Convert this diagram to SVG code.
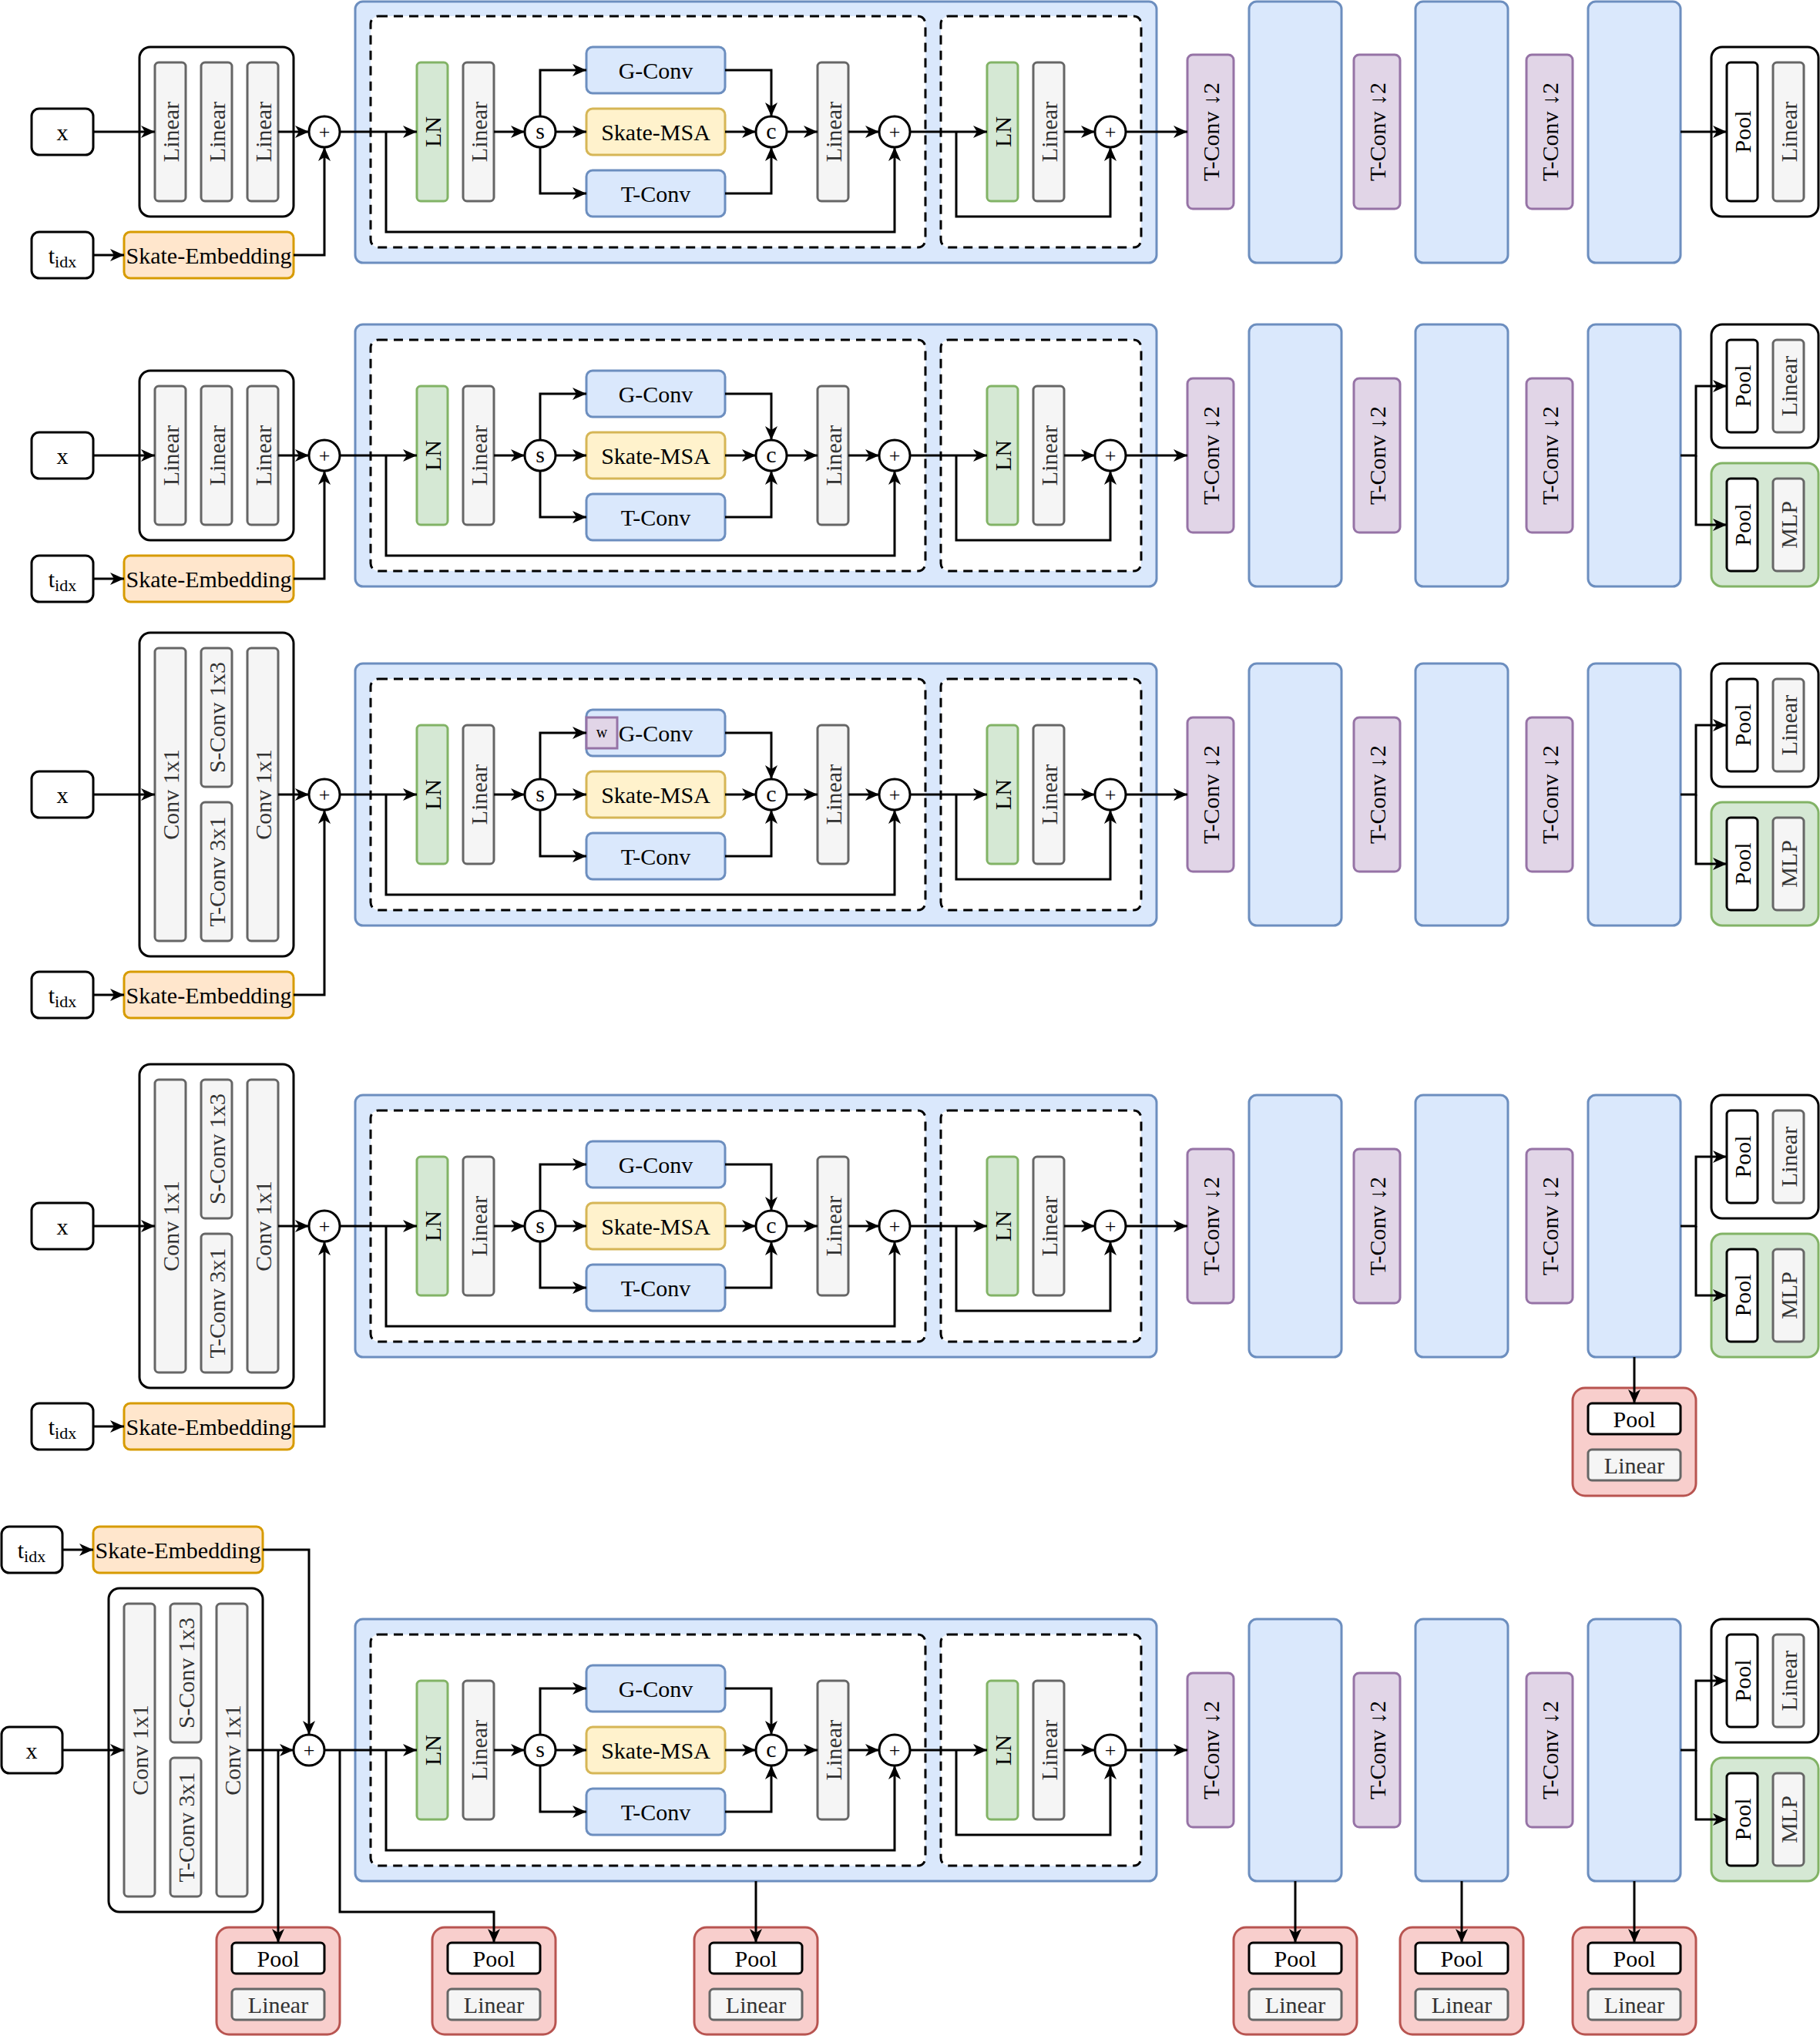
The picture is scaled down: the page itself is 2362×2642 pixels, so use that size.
<svg xmlns="http://www.w3.org/2000/svg" width="2362" height="2642" viewBox="0 0 2362 2642">
<style>
.blk{fill:#fff;stroke:#000;stroke-width:3}
.blue{fill:#dae8fc;stroke:#6c8ebf;stroke-width:3}
.yel{fill:#fff2cc;stroke:#d6b656;stroke-width:3}
.org{fill:#ffe6cc;stroke:#d79b00;stroke-width:3}
.grn{fill:#d5e8d4;stroke:#82b366;stroke-width:3}
.gry{fill:#f5f5f5;stroke:#666;stroke-width:3}
.pur{fill:#e1d5e7;stroke:#9673a6;stroke-width:3}
.red{fill:#f8cecc;stroke:#b85450;stroke-width:3}
.dsh{fill:#fff;stroke:#000;stroke-width:3;stroke-dasharray:12 8}
.c path{fill:none;stroke:#000;stroke-width:3;marker-end:url(#a)}
text{font-family:"Liberation Serif","Times New Roman",serif;font-size:30px;text-anchor:middle;dominant-baseline:central;fill:#000}
text.tg{fill:#333}
text.op{font-size:26px}
text.sm{font-size:20px}
</style>
<defs>
<marker id="a" viewBox="0 0 20 20" refX="19" refY="10" markerWidth="20" markerHeight="20" markerUnits="userSpaceOnUse" orient="auto"><path d="M1,2 L19,10 L1,18 L6,10 Z" fill="#000"/></marker>
</defs>
<rect width="2362" height="2642" fill="#fff"/>

<!-- ================= ROW 1 (c=171) ================= -->
<g id="r1-x"><rect class="blk" x="41" y="141" width="80" height="60" rx="10"/><text x="81" y="171">x</text></g>
<g id="r1-linear-stack"><rect class="blk" x="181" y="61" width="200" height="220" rx="14"/>
<rect class="gry" x="201" y="81" width="40" height="180" rx="5"/><text class="tg" x="221" y="171" transform="rotate(-90 221 171)">Linear</text>
<rect class="gry" x="261" y="81" width="40" height="180" rx="5"/><text class="tg" x="281" y="171" transform="rotate(-90 281 171)">Linear</text>
<rect class="gry" x="321" y="81" width="40" height="180" rx="5"/><text class="tg" x="341" y="171" transform="rotate(-90 341 171)">Linear</text></g>
<g id="r1-add0"><circle class="blk" cx="421" cy="171" r="20"/><text class="op" x="421" y="171">+</text></g>
<g id="r1-tidx"><rect class="blk" x="41" y="301" width="80" height="60" rx="10"/><text x="81" y="331">t<tspan font-size="22" dy="8">idx</tspan></text></g>
<g id="r1-skate-emb"><rect class="org" x="161" y="301" width="220" height="60" rx="8"/><text x="271" y="331">Skate-Embedding</text></g>
<g id="r1-stage1"><rect class="blue" x="461" y="2" width="1040" height="339" rx="10"/></g>
<g id="r1-attn-block"><rect class="dsh" x="481" y="21" width="720" height="300" rx="10"/></g>
<g id="r1-mlp-block"><rect class="dsh" x="1221" y="21" width="260" height="300" rx="10"/></g>
<g id="r1-ln1"><rect class="grn" x="541" y="81" width="40" height="180" rx="5"/><text x="561" y="171" transform="rotate(-90 561 171)">LN</text></g>
<g id="r1-lin1"><rect class="gry" x="601" y="81" width="40" height="180" rx="5"/><text class="tg" x="621" y="171" transform="rotate(-90 621 171)">Linear</text></g>
<g id="r1-split"><circle class="blk" cx="701" cy="171" r="20"/><text x="701" y="169">s</text></g>
<g id="r1-gconv"><rect class="blue" x="761" y="61" width="180" height="60" rx="8"/><text x="851" y="91">G-Conv</text></g>
<g id="r1-msa"><rect class="yel" x="761" y="141" width="180" height="60" rx="8"/><text x="851" y="171">Skate-MSA</text></g>
<g id="r1-tconv"><rect class="blue" x="761" y="221" width="180" height="60" rx="8"/><text x="851" y="251">T-Conv</text></g>
<g id="r1-concat"><circle class="blk" cx="1001" cy="171" r="20"/><text x="1001" y="169">c</text></g>
<g id="r1-lin2"><rect class="gry" x="1061" y="81" width="40" height="180" rx="5"/><text class="tg" x="1081" y="171" transform="rotate(-90 1081 171)">Linear</text></g>
<g id="r1-add1"><circle class="blk" cx="1161" cy="171" r="20"/><text class="op" x="1161" y="171">+</text></g>
<g id="r1-ln2"><rect class="grn" x="1281" y="81" width="40" height="180" rx="5"/><text x="1301" y="171" transform="rotate(-90 1301 171)">LN</text></g>
<g id="r1-lin3"><rect class="gry" x="1341" y="81" width="40" height="180" rx="5"/><text class="tg" x="1361" y="171" transform="rotate(-90 1361 171)">Linear</text></g>
<g id="r1-add2"><circle class="blk" cx="1441" cy="171" r="20"/><text class="op" x="1441" y="171">+</text></g>
<g id="r1-down1"><rect class="pur" x="1541" y="71" width="60" height="200" rx="7"/><text x="1571" y="171" transform="rotate(-90 1571 171)">T-Conv ↓2</text></g>
<g id="r1-stage2"><rect class="blue" x="1621" y="2" width="120" height="339" rx="10"/></g>
<g id="r1-down2"><rect class="pur" x="1757" y="71" width="60" height="200" rx="7"/><text x="1787" y="171" transform="rotate(-90 1787 171)">T-Conv ↓2</text></g>
<g id="r1-stage3"><rect class="blue" x="1837" y="2" width="120" height="339" rx="10"/></g>
<g id="r1-down3"><rect class="pur" x="1981" y="71" width="60" height="200" rx="7"/><text x="2011" y="171" transform="rotate(-90 2011 171)">T-Conv ↓2</text></g>
<g id="r1-stage4"><rect class="blue" x="2061" y="2" width="120" height="339" rx="10"/></g>
<g id="r1-head"><rect class="blk" x="2221" y="61" width="139" height="220" rx="14"/>
<rect class="blk" x="2241" y="81" width="40" height="180" rx="5"/><text x="2261" y="171" transform="rotate(-90 2261 171)">Pool</text>
<rect class="gry" x="2301" y="81" width="40" height="180" rx="5"/><text class="tg" x="2321" y="171" transform="rotate(-90 2321 171)">Linear</text></g>

<!-- ================= ROW 2 (c=591) ================= -->
<g id="r2-x"><rect class="blk" x="41" y="561" width="80" height="60" rx="10"/><text x="81" y="591">x</text></g>
<g id="r2-linear-stack"><rect class="blk" x="181" y="481" width="200" height="220" rx="14"/>
<rect class="gry" x="201" y="501" width="40" height="180" rx="5"/><text class="tg" x="221" y="591" transform="rotate(-90 221 591)">Linear</text>
<rect class="gry" x="261" y="501" width="40" height="180" rx="5"/><text class="tg" x="281" y="591" transform="rotate(-90 281 591)">Linear</text>
<rect class="gry" x="321" y="501" width="40" height="180" rx="5"/><text class="tg" x="341" y="591" transform="rotate(-90 341 591)">Linear</text></g>
<g id="r2-add0"><circle class="blk" cx="421" cy="591" r="20"/><text class="op" x="421" y="591">+</text></g>
<g id="r2-tidx"><rect class="blk" x="41" y="721" width="80" height="60" rx="10"/><text x="81" y="751">t<tspan font-size="22" dy="8">idx</tspan></text></g>
<g id="r2-skate-emb"><rect class="org" x="161" y="721" width="220" height="60" rx="8"/><text x="271" y="751">Skate-Embedding</text></g>
<g id="r2-stage1"><rect class="blue" x="461" y="421" width="1040" height="340" rx="10"/></g>
<g id="r2-attn-block"><rect class="dsh" x="481" y="441" width="720" height="300" rx="10"/></g>
<g id="r2-mlp-block"><rect class="dsh" x="1221" y="441" width="260" height="300" rx="10"/></g>
<g id="r2-ln1"><rect class="grn" x="541" y="501" width="40" height="180" rx="5"/><text x="561" y="591" transform="rotate(-90 561 591)">LN</text></g>
<g id="r2-lin1"><rect class="gry" x="601" y="501" width="40" height="180" rx="5"/><text class="tg" x="621" y="591" transform="rotate(-90 621 591)">Linear</text></g>
<g id="r2-split"><circle class="blk" cx="701" cy="591" r="20"/><text x="701" y="589">s</text></g>
<g id="r2-gconv"><rect class="blue" x="761" y="481" width="180" height="60" rx="8"/><text x="851" y="511">G-Conv</text></g>
<g id="r2-msa"><rect class="yel" x="761" y="561" width="180" height="60" rx="8"/><text x="851" y="591">Skate-MSA</text></g>
<g id="r2-tconv"><rect class="blue" x="761" y="641" width="180" height="60" rx="8"/><text x="851" y="671">T-Conv</text></g>
<g id="r2-concat"><circle class="blk" cx="1001" cy="591" r="20"/><text x="1001" y="589">c</text></g>
<g id="r2-lin2"><rect class="gry" x="1061" y="501" width="40" height="180" rx="5"/><text class="tg" x="1081" y="591" transform="rotate(-90 1081 591)">Linear</text></g>
<g id="r2-add1"><circle class="blk" cx="1161" cy="591" r="20"/><text class="op" x="1161" y="591">+</text></g>
<g id="r2-ln2"><rect class="grn" x="1281" y="501" width="40" height="180" rx="5"/><text x="1301" y="591" transform="rotate(-90 1301 591)">LN</text></g>
<g id="r2-lin3"><rect class="gry" x="1341" y="501" width="40" height="180" rx="5"/><text class="tg" x="1361" y="591" transform="rotate(-90 1361 591)">Linear</text></g>
<g id="r2-add2"><circle class="blk" cx="1441" cy="591" r="20"/><text class="op" x="1441" y="591">+</text></g>
<g id="r2-down1"><rect class="pur" x="1541" y="491" width="60" height="200" rx="7"/><text x="1571" y="591" transform="rotate(-90 1571 591)">T-Conv ↓2</text></g>
<g id="r2-stage2"><rect class="blue" x="1621" y="421" width="120" height="340" rx="10"/></g>
<g id="r2-down2"><rect class="pur" x="1757" y="491" width="60" height="200" rx="7"/><text x="1787" y="591" transform="rotate(-90 1787 591)">T-Conv ↓2</text></g>
<g id="r2-stage3"><rect class="blue" x="1837" y="421" width="120" height="340" rx="10"/></g>
<g id="r2-down3"><rect class="pur" x="1981" y="491" width="60" height="200" rx="7"/><text x="2011" y="591" transform="rotate(-90 2011 591)">T-Conv ↓2</text></g>
<g id="r2-stage4"><rect class="blue" x="2061" y="421" width="120" height="340" rx="10"/></g>
<g id="r2-head-a"><rect class="blk" x="2221" y="421" width="139" height="160" rx="14"/>
<rect class="blk" x="2241" y="441" width="40" height="120" rx="5"/><text x="2261" y="501" transform="rotate(-90 2261 501)">Pool</text>
<rect class="gry" x="2301" y="441" width="40" height="120" rx="5"/><text class="tg" x="2321" y="501" transform="rotate(-90 2321 501)">Linear</text></g>
<g id="r2-head-b"><rect class="grn" x="2221" y="601" width="139" height="160" rx="14"/>
<rect class="blk" x="2241" y="621" width="40" height="120" rx="5"/><text x="2261" y="681" transform="rotate(-90 2261 681)">Pool</text>
<rect class="gry" x="2301" y="621" width="40" height="120" rx="5"/><text class="tg" x="2321" y="681" transform="rotate(-90 2321 681)">MLP</text></g>

<!-- ================= ROW 3 (c=1031) ================= -->
<g id="r3-x"><rect class="blk" x="41" y="1001" width="80" height="60" rx="10"/><text x="81" y="1031">x</text></g>
<g id="r3-conv-stack"><rect class="blk" x="181" y="821" width="200" height="420" rx="14"/>
<rect class="gry" x="201" y="841" width="40" height="380" rx="5"/><text class="tg" x="221" y="1031" transform="rotate(-90 221 1031)">Conv 1x1</text>
<rect class="gry" x="261" y="841" width="40" height="180" rx="5"/><text class="tg" x="281" y="931" transform="rotate(-90 281 931)">S-Conv 1x3</text>
<rect class="gry" x="261" y="1041" width="40" height="180" rx="5"/><text class="tg" x="281" y="1131" transform="rotate(-90 281 1131)">T-Conv 3x1</text>
<rect class="gry" x="321" y="841" width="40" height="380" rx="5"/><text class="tg" x="341" y="1031" transform="rotate(-90 341 1031)">Conv 1x1</text></g>
<g id="r3-add0"><circle class="blk" cx="421" cy="1031" r="20"/><text class="op" x="421" y="1031">+</text></g>
<g id="r3-tidx"><rect class="blk" x="41" y="1261" width="80" height="60" rx="10"/><text x="81" y="1291">t<tspan font-size="22" dy="8">idx</tspan></text></g>
<g id="r3-skate-emb"><rect class="org" x="161" y="1261" width="220" height="60" rx="8"/><text x="271" y="1291">Skate-Embedding</text></g>
<g id="r3-stage1"><rect class="blue" x="461" y="861" width="1040" height="340" rx="10"/></g>
<g id="r3-attn-block"><rect class="dsh" x="481" y="881" width="720" height="300" rx="10"/></g>
<g id="r3-mlp-block"><rect class="dsh" x="1221" y="881" width="260" height="300" rx="10"/></g>
<g id="r3-ln1"><rect class="grn" x="541" y="941" width="40" height="180" rx="5"/><text x="561" y="1031" transform="rotate(-90 561 1031)">LN</text></g>
<g id="r3-lin1"><rect class="gry" x="601" y="941" width="40" height="180" rx="5"/><text class="tg" x="621" y="1031" transform="rotate(-90 621 1031)">Linear</text></g>
<g id="r3-split"><circle class="blk" cx="701" cy="1031" r="20"/><text x="701" y="1029">s</text></g>
<g id="r3-gconv"><rect class="blue" x="761" y="921" width="180" height="60" rx="8"/><text x="851" y="951">G-Conv</text></g>
<g id="r3-w"><rect class="pur" x="761" y="931" width="40" height="40"/><text class="sm" x="781" y="950">w</text></g>
<g id="r3-msa"><rect class="yel" x="761" y="1001" width="180" height="60" rx="8"/><text x="851" y="1031">Skate-MSA</text></g>
<g id="r3-tconv"><rect class="blue" x="761" y="1081" width="180" height="60" rx="8"/><text x="851" y="1111">T-Conv</text></g>
<g id="r3-concat"><circle class="blk" cx="1001" cy="1031" r="20"/><text x="1001" y="1029">c</text></g>
<g id="r3-lin2"><rect class="gry" x="1061" y="941" width="40" height="180" rx="5"/><text class="tg" x="1081" y="1031" transform="rotate(-90 1081 1031)">Linear</text></g>
<g id="r3-add1"><circle class="blk" cx="1161" cy="1031" r="20"/><text class="op" x="1161" y="1031">+</text></g>
<g id="r3-ln2"><rect class="grn" x="1281" y="941" width="40" height="180" rx="5"/><text x="1301" y="1031" transform="rotate(-90 1301 1031)">LN</text></g>
<g id="r3-lin3"><rect class="gry" x="1341" y="941" width="40" height="180" rx="5"/><text class="tg" x="1361" y="1031" transform="rotate(-90 1361 1031)">Linear</text></g>
<g id="r3-add2"><circle class="blk" cx="1441" cy="1031" r="20"/><text class="op" x="1441" y="1031">+</text></g>
<g id="r3-down1"><rect class="pur" x="1541" y="931" width="60" height="200" rx="7"/><text x="1571" y="1031" transform="rotate(-90 1571 1031)">T-Conv ↓2</text></g>
<g id="r3-stage2"><rect class="blue" x="1621" y="861" width="120" height="340" rx="10"/></g>
<g id="r3-down2"><rect class="pur" x="1757" y="931" width="60" height="200" rx="7"/><text x="1787" y="1031" transform="rotate(-90 1787 1031)">T-Conv ↓2</text></g>
<g id="r3-stage3"><rect class="blue" x="1837" y="861" width="120" height="340" rx="10"/></g>
<g id="r3-down3"><rect class="pur" x="1981" y="931" width="60" height="200" rx="7"/><text x="2011" y="1031" transform="rotate(-90 2011 1031)">T-Conv ↓2</text></g>
<g id="r3-stage4"><rect class="blue" x="2061" y="861" width="120" height="340" rx="10"/></g>
<g id="r3-head-a"><rect class="blk" x="2221" y="861" width="139" height="160" rx="14"/>
<rect class="blk" x="2241" y="881" width="40" height="120" rx="5"/><text x="2261" y="941" transform="rotate(-90 2261 941)">Pool</text>
<rect class="gry" x="2301" y="881" width="40" height="120" rx="5"/><text class="tg" x="2321" y="941" transform="rotate(-90 2321 941)">Linear</text></g>
<g id="r3-head-b"><rect class="grn" x="2221" y="1041" width="139" height="160" rx="14"/>
<rect class="blk" x="2241" y="1061" width="40" height="120" rx="5"/><text x="2261" y="1121" transform="rotate(-90 2261 1121)">Pool</text>
<rect class="gry" x="2301" y="1061" width="40" height="120" rx="5"/><text class="tg" x="2321" y="1121" transform="rotate(-90 2321 1121)">MLP</text></g>

<!-- ================= ROW 4 (c=1591) ================= -->
<g id="r4-x"><rect class="blk" x="41" y="1561" width="80" height="60" rx="10"/><text x="81" y="1591">x</text></g>
<g id="r4-conv-stack"><rect class="blk" x="181" y="1381" width="200" height="420" rx="14"/>
<rect class="gry" x="201" y="1401" width="40" height="380" rx="5"/><text class="tg" x="221" y="1591" transform="rotate(-90 221 1591)">Conv 1x1</text>
<rect class="gry" x="261" y="1401" width="40" height="180" rx="5"/><text class="tg" x="281" y="1491" transform="rotate(-90 281 1491)">S-Conv 1x3</text>
<rect class="gry" x="261" y="1601" width="40" height="180" rx="5"/><text class="tg" x="281" y="1691" transform="rotate(-90 281 1691)">T-Conv 3x1</text>
<rect class="gry" x="321" y="1401" width="40" height="380" rx="5"/><text class="tg" x="341" y="1591" transform="rotate(-90 341 1591)">Conv 1x1</text></g>
<g id="r4-add0"><circle class="blk" cx="421" cy="1591" r="20"/><text class="op" x="421" y="1591">+</text></g>
<g id="r4-tidx"><rect class="blk" x="41" y="1821" width="80" height="60" rx="10"/><text x="81" y="1851">t<tspan font-size="22" dy="8">idx</tspan></text></g>
<g id="r4-skate-emb"><rect class="org" x="161" y="1821" width="220" height="60" rx="8"/><text x="271" y="1851">Skate-Embedding</text></g>
<g id="r4-stage1"><rect class="blue" x="461" y="1421" width="1040" height="340" rx="10"/></g>
<g id="r4-attn-block"><rect class="dsh" x="481" y="1441" width="720" height="300" rx="10"/></g>
<g id="r4-mlp-block"><rect class="dsh" x="1221" y="1441" width="260" height="300" rx="10"/></g>
<g id="r4-ln1"><rect class="grn" x="541" y="1501" width="40" height="180" rx="5"/><text x="561" y="1591" transform="rotate(-90 561 1591)">LN</text></g>
<g id="r4-lin1"><rect class="gry" x="601" y="1501" width="40" height="180" rx="5"/><text class="tg" x="621" y="1591" transform="rotate(-90 621 1591)">Linear</text></g>
<g id="r4-split"><circle class="blk" cx="701" cy="1591" r="20"/><text x="701" y="1589">s</text></g>
<g id="r4-gconv"><rect class="blue" x="761" y="1481" width="180" height="60" rx="8"/><text x="851" y="1511">G-Conv</text></g>
<g id="r4-msa"><rect class="yel" x="761" y="1561" width="180" height="60" rx="8"/><text x="851" y="1591">Skate-MSA</text></g>
<g id="r4-tconv"><rect class="blue" x="761" y="1641" width="180" height="60" rx="8"/><text x="851" y="1671">T-Conv</text></g>
<g id="r4-concat"><circle class="blk" cx="1001" cy="1591" r="20"/><text x="1001" y="1589">c</text></g>
<g id="r4-lin2"><rect class="gry" x="1061" y="1501" width="40" height="180" rx="5"/><text class="tg" x="1081" y="1591" transform="rotate(-90 1081 1591)">Linear</text></g>
<g id="r4-add1"><circle class="blk" cx="1161" cy="1591" r="20"/><text class="op" x="1161" y="1591">+</text></g>
<g id="r4-ln2"><rect class="grn" x="1281" y="1501" width="40" height="180" rx="5"/><text x="1301" y="1591" transform="rotate(-90 1301 1591)">LN</text></g>
<g id="r4-lin3"><rect class="gry" x="1341" y="1501" width="40" height="180" rx="5"/><text class="tg" x="1361" y="1591" transform="rotate(-90 1361 1591)">Linear</text></g>
<g id="r4-add2"><circle class="blk" cx="1441" cy="1591" r="20"/><text class="op" x="1441" y="1591">+</text></g>
<g id="r4-down1"><rect class="pur" x="1541" y="1491" width="60" height="200" rx="7"/><text x="1571" y="1591" transform="rotate(-90 1571 1591)">T-Conv ↓2</text></g>
<g id="r4-stage2"><rect class="blue" x="1621" y="1421" width="120" height="340" rx="10"/></g>
<g id="r4-down2"><rect class="pur" x="1757" y="1491" width="60" height="200" rx="7"/><text x="1787" y="1591" transform="rotate(-90 1787 1591)">T-Conv ↓2</text></g>
<g id="r4-stage3"><rect class="blue" x="1837" y="1421" width="120" height="340" rx="10"/></g>
<g id="r4-down3"><rect class="pur" x="1981" y="1491" width="60" height="200" rx="7"/><text x="2011" y="1591" transform="rotate(-90 2011 1591)">T-Conv ↓2</text></g>
<g id="r4-stage4"><rect class="blue" x="2061" y="1421" width="120" height="340" rx="10"/></g>
<g id="r4-head-a"><rect class="blk" x="2221" y="1421" width="139" height="160" rx="14"/>
<rect class="blk" x="2241" y="1441" width="40" height="120" rx="5"/><text x="2261" y="1501" transform="rotate(-90 2261 1501)">Pool</text>
<rect class="gry" x="2301" y="1441" width="40" height="120" rx="5"/><text class="tg" x="2321" y="1501" transform="rotate(-90 2321 1501)">Linear</text></g>
<g id="r4-head-b"><rect class="grn" x="2221" y="1601" width="139" height="160" rx="14"/>
<rect class="blk" x="2241" y="1621" width="40" height="120" rx="5"/><text x="2261" y="1681" transform="rotate(-90 2261 1681)">Pool</text>
<rect class="gry" x="2301" y="1621" width="40" height="120" rx="5"/><text class="tg" x="2321" y="1681" transform="rotate(-90 2321 1681)">MLP</text></g>
<g id="r4-head-c"><rect class="red" x="2041" y="1801" width="160" height="140" rx="16"/>
<rect class="blk" x="2061" y="1821" width="120" height="40" rx="5"/><text x="2121" y="1841">Pool</text>
<rect class="gry" x="2061" y="1881" width="120" height="40" rx="5"/><text class="tg" x="2121" y="1901">Linear</text></g>

<!-- ================= ROW 5 (c=2271) ================= -->
<g id="r5-tidx"><rect class="blk" x="2" y="1981" width="79" height="60" rx="10"/><text x="41" y="2011">t<tspan font-size="22" dy="8">idx</tspan></text></g>
<g id="r5-skate-emb"><rect class="org" x="121" y="1981" width="220" height="60" rx="8"/><text x="231" y="2011">Skate-Embedding</text></g>
<g id="r5-x"><rect class="blk" x="2" y="2241" width="79" height="60" rx="10"/><text x="41" y="2271">x</text></g>
<g id="r5-conv-stack"><rect class="blk" x="141" y="2061" width="200" height="420" rx="14"/>
<rect class="gry" x="161" y="2081" width="40" height="380" rx="5"/><text class="tg" x="181" y="2271" transform="rotate(-90 181 2271)">Conv 1x1</text>
<rect class="gry" x="221" y="2081" width="40" height="180" rx="5"/><text class="tg" x="241" y="2171" transform="rotate(-90 241 2171)">S-Conv 1x3</text>
<rect class="gry" x="221" y="2281" width="40" height="180" rx="5"/><text class="tg" x="241" y="2371" transform="rotate(-90 241 2371)">T-Conv 3x1</text>
<rect class="gry" x="281" y="2081" width="40" height="380" rx="5"/><text class="tg" x="301" y="2271" transform="rotate(-90 301 2271)">Conv 1x1</text></g>
<g id="r5-add0"><circle class="blk" cx="401" cy="2271" r="20"/><text class="op" x="401" y="2271">+</text></g>
<g id="r5-stage1"><rect class="blue" x="461" y="2101" width="1040" height="340" rx="10"/></g>
<g id="r5-attn-block"><rect class="dsh" x="481" y="2121" width="720" height="300" rx="10"/></g>
<g id="r5-mlp-block"><rect class="dsh" x="1221" y="2121" width="260" height="300" rx="10"/></g>
<g id="r5-ln1"><rect class="grn" x="541" y="2181" width="40" height="180" rx="5"/><text x="561" y="2271" transform="rotate(-90 561 2271)">LN</text></g>
<g id="r5-lin1"><rect class="gry" x="601" y="2181" width="40" height="180" rx="5"/><text class="tg" x="621" y="2271" transform="rotate(-90 621 2271)">Linear</text></g>
<g id="r5-split"><circle class="blk" cx="701" cy="2271" r="20"/><text x="701" y="2269">s</text></g>
<g id="r5-gconv"><rect class="blue" x="761" y="2161" width="180" height="60" rx="8"/><text x="851" y="2191">G-Conv</text></g>
<g id="r5-msa"><rect class="yel" x="761" y="2241" width="180" height="60" rx="8"/><text x="851" y="2271">Skate-MSA</text></g>
<g id="r5-tconv"><rect class="blue" x="761" y="2321" width="180" height="60" rx="8"/><text x="851" y="2351">T-Conv</text></g>
<g id="r5-concat"><circle class="blk" cx="1001" cy="2271" r="20"/><text x="1001" y="2269">c</text></g>
<g id="r5-lin2"><rect class="gry" x="1061" y="2181" width="40" height="180" rx="5"/><text class="tg" x="1081" y="2271" transform="rotate(-90 1081 2271)">Linear</text></g>
<g id="r5-add1"><circle class="blk" cx="1161" cy="2271" r="20"/><text class="op" x="1161" y="2271">+</text></g>
<g id="r5-ln2"><rect class="grn" x="1281" y="2181" width="40" height="180" rx="5"/><text x="1301" y="2271" transform="rotate(-90 1301 2271)">LN</text></g>
<g id="r5-lin3"><rect class="gry" x="1341" y="2181" width="40" height="180" rx="5"/><text class="tg" x="1361" y="2271" transform="rotate(-90 1361 2271)">Linear</text></g>
<g id="r5-add2"><circle class="blk" cx="1441" cy="2271" r="20"/><text class="op" x="1441" y="2271">+</text></g>
<g id="r5-down1"><rect class="pur" x="1541" y="2171" width="60" height="200" rx="7"/><text x="1571" y="2271" transform="rotate(-90 1571 2271)">T-Conv ↓2</text></g>
<g id="r5-stage2"><rect class="blue" x="1621" y="2101" width="120" height="340" rx="10"/></g>
<g id="r5-down2"><rect class="pur" x="1757" y="2171" width="60" height="200" rx="7"/><text x="1787" y="2271" transform="rotate(-90 1787 2271)">T-Conv ↓2</text></g>
<g id="r5-stage3"><rect class="blue" x="1837" y="2101" width="120" height="340" rx="10"/></g>
<g id="r5-down3"><rect class="pur" x="1981" y="2171" width="60" height="200" rx="7"/><text x="2011" y="2271" transform="rotate(-90 2011 2271)">T-Conv ↓2</text></g>
<g id="r5-stage4"><rect class="blue" x="2061" y="2101" width="120" height="340" rx="10"/></g>
<g id="r5-head-a"><rect class="blk" x="2221" y="2101" width="139" height="160" rx="14"/>
<rect class="blk" x="2241" y="2121" width="40" height="120" rx="5"/><text x="2261" y="2181" transform="rotate(-90 2261 2181)">Pool</text>
<rect class="gry" x="2301" y="2121" width="40" height="120" rx="5"/><text class="tg" x="2321" y="2181" transform="rotate(-90 2321 2181)">Linear</text></g>
<g id="r5-head-b"><rect class="grn" x="2221" y="2281" width="139" height="160" rx="14"/>
<rect class="blk" x="2241" y="2301" width="40" height="120" rx="5"/><text x="2261" y="2361" transform="rotate(-90 2261 2361)">Pool</text>
<rect class="gry" x="2301" y="2301" width="40" height="120" rx="5"/><text class="tg" x="2321" y="2361" transform="rotate(-90 2321 2361)">MLP</text></g>
<g id="r5-aux1"><rect class="red" x="281" y="2501" width="160" height="139" rx="16"/>
<rect class="blk" x="301" y="2521" width="120" height="40" rx="5"/><text x="361" y="2541">Pool</text>
<rect class="gry" x="301" y="2581" width="120" height="40" rx="5"/><text class="tg" x="361" y="2601">Linear</text></g>
<g id="r5-aux2"><rect class="red" x="561" y="2501" width="160" height="139" rx="16"/>
<rect class="blk" x="581" y="2521" width="120" height="40" rx="5"/><text x="641" y="2541">Pool</text>
<rect class="gry" x="581" y="2581" width="120" height="40" rx="5"/><text class="tg" x="641" y="2601">Linear</text></g>
<g id="r5-aux3"><rect class="red" x="901" y="2501" width="160" height="139" rx="16"/>
<rect class="blk" x="921" y="2521" width="120" height="40" rx="5"/><text x="981" y="2541">Pool</text>
<rect class="gry" x="921" y="2581" width="120" height="40" rx="5"/><text class="tg" x="981" y="2601">Linear</text></g>
<g id="r5-aux4"><rect class="red" x="1601" y="2501" width="160" height="139" rx="16"/>
<rect class="blk" x="1621" y="2521" width="120" height="40" rx="5"/><text x="1681" y="2541">Pool</text>
<rect class="gry" x="1621" y="2581" width="120" height="40" rx="5"/><text class="tg" x="1681" y="2601">Linear</text></g>
<g id="r5-aux5"><rect class="red" x="1817" y="2501" width="160" height="139" rx="16"/>
<rect class="blk" x="1837" y="2521" width="120" height="40" rx="5"/><text x="1897" y="2541">Pool</text>
<rect class="gry" x="1837" y="2581" width="120" height="40" rx="5"/><text class="tg" x="1897" y="2601">Linear</text></g>
<g id="r5-aux6"><rect class="red" x="2041" y="2501" width="160" height="139" rx="16"/>
<rect class="blk" x="2061" y="2521" width="120" height="40" rx="5"/><text x="2121" y="2541">Pool</text>
<rect class="gry" x="2061" y="2581" width="120" height="40" rx="5"/><text class="tg" x="2121" y="2601">Linear</text></g>

<!-- ================= CONNECTORS ================= -->
<g id="connectors" class="c">
<path d="M121,171H201"/><path d="M361,171H401"/><path d="M121,331H161"/><path d="M381,331H421V191"/><path d="M441,171H541"/><path d="M501,171V301H1161V191"/><path d="M641,171H681"/><path d="M701,151V91H761"/><path d="M721,171H761"/><path d="M701,191V251H761"/><path d="M941,91H1001V151"/><path d="M941,171H981"/><path d="M941,251H1001V191"/><path d="M1021,171H1061"/><path d="M1101,171H1141"/><path d="M1181,171H1281"/><path d="M1241,171V281H1441V191"/><path d="M1381,171H1421"/><path d="M1461,171H1541"/><path d="M2181,171H2241"/>

<path d="M121,591H201"/><path d="M361,591H401"/><path d="M121,751H161"/><path d="M381,751H421V611"/><path d="M441,591H541"/><path d="M501,591V721H1161V611"/><path d="M641,591H681"/><path d="M701,571V511H761"/><path d="M721,591H761"/><path d="M701,611V671H761"/><path d="M941,511H1001V571"/><path d="M941,591H981"/><path d="M941,671H1001V611"/><path d="M1021,591H1061"/><path d="M1101,591H1141"/><path d="M1181,591H1281"/><path d="M1241,591V701H1441V611"/><path d="M1381,591H1421"/><path d="M1461,591H1541"/><path d="M2181,591H2201V501H2241"/><path d="M2201,591V681H2241"/>

<path d="M121,1031H201"/><path d="M361,1031H401"/><path d="M121,1291H161"/><path d="M381,1291H421V1051"/><path d="M441,1031H541"/><path d="M501,1031V1161H1161V1051"/><path d="M641,1031H681"/><path d="M701,1011V951H761"/><path d="M721,1031H761"/><path d="M701,1051V1111H761"/><path d="M941,951H1001V1011"/><path d="M941,1031H981"/><path d="M941,1111H1001V1051"/><path d="M1021,1031H1061"/><path d="M1101,1031H1141"/><path d="M1181,1031H1281"/><path d="M1241,1031V1141H1441V1051"/><path d="M1381,1031H1421"/><path d="M1461,1031H1541"/><path d="M2181,1031H2201V941H2241"/><path d="M2201,1031V1121H2241"/>

<path d="M121,1591H201"/><path d="M361,1591H401"/><path d="M121,1851H161"/><path d="M381,1851H421V1611"/><path d="M441,1591H541"/><path d="M501,1591V1721H1161V1611"/><path d="M641,1591H681"/><path d="M701,1571V1511H761"/><path d="M721,1591H761"/><path d="M701,1611V1671H761"/><path d="M941,1511H1001V1571"/><path d="M941,1591H981"/><path d="M941,1671H1001V1611"/><path d="M1021,1591H1061"/><path d="M1101,1591H1141"/><path d="M1181,1591H1281"/><path d="M1241,1591V1701H1441V1611"/><path d="M1381,1591H1421"/><path d="M1461,1591H1541"/><path d="M2181,1591H2201V1501H2241"/><path d="M2201,1591V1681H2241"/><path d="M2121,1761V1821"/>

<path d="M81,2271H161"/><path d="M321,2271H381"/><path d="M81,2011H121"/><path d="M341,2011H401V2251"/><path d="M361,2271V2521"/><path d="M421,2271H541"/><path d="M441,2271V2481H641V2521"/><path d="M501,2271V2401H1161V2291"/><path d="M641,2271H681"/><path d="M701,2251V2191H761"/><path d="M721,2271H761"/><path d="M701,2291V2351H761"/><path d="M941,2191H1001V2251"/><path d="M941,2271H981"/><path d="M941,2351H1001V2291"/><path d="M1021,2271H1061"/><path d="M1101,2271H1141"/><path d="M1181,2271H1281"/><path d="M1241,2271V2381H1441V2291"/><path d="M1381,2271H1421"/><path d="M1461,2271H1541"/><path d="M2181,2271H2201V2181H2241"/><path d="M2201,2271V2361H2241"/><path d="M981,2441V2521"/><path d="M1681,2441V2521"/><path d="M1897,2441V2521"/><path d="M2121,2441V2521"/>
</g>
</svg>
